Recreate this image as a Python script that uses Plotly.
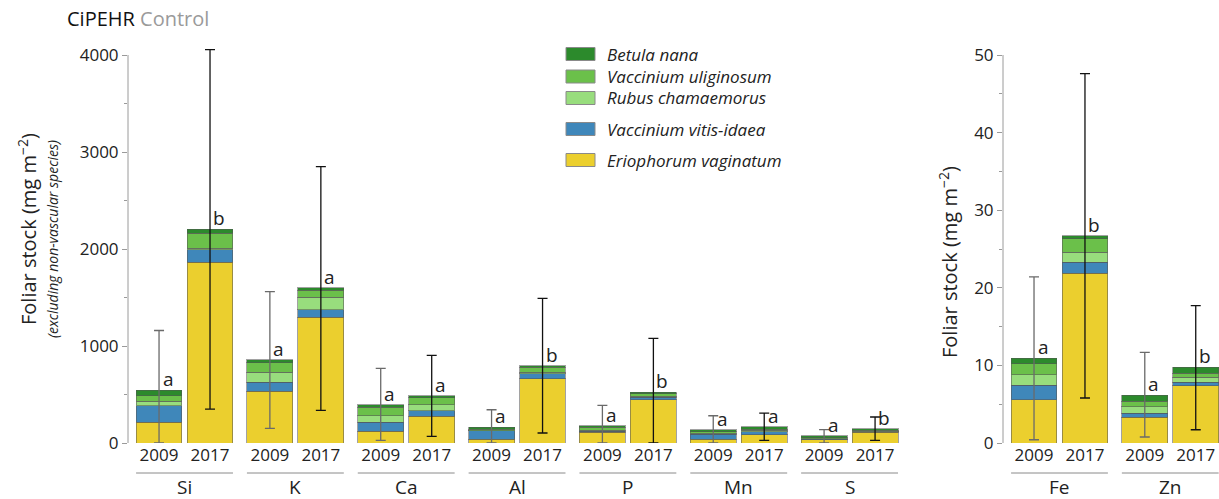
import plotly.graph_objects as go

# ---------------- data ----------------
elements = ["Si", "K", "Ca", "Al", "P", "Mn", "S", "Fe", "Zn"]
years = ["2009", "2017"]
species = ["Eriophorum vaginatum", "Vaccinium vitis-idaea", "Rubus chamaemorus",
           "Vaccinium uliginosum", "Betula nana"]
colors = ["#EBCF2E", "#3F87BA", "#98DD7D", "#6BC04A", "#2C8A2C"]

# order: Si09, Si17, K09, K17, Ca09, Ca17, Al09, Al17, P09, P17, Mn09, Mn17, S09, S17, Fe09, Fe17, Zn09, Zn17
eriophorum = [212, 1862, 532, 1299, 120, 274, 41, 660, 113, 446, 41, 86, 33, 113, 5.58, 21.9, 3.35, 7.38]
vitis_idaea = [172, 131, 93, 75, 92, 59, 83, 54, 8, 24, 48, 31, 5, 4, 1.84, 1.4, 0.51, 0.42]
rubus = [49, 17, 103, 127, 69, 62, 4, 14, 10, 11, 14, 13, 5, 4, 1.38, 1.3, 0.84, 0.65]
uliginosum = [55, 155, 97, 72, 86, 69, 13, 52, 30, 27, 14, 14, 9, 10, 1.4, 1.7, 0.66, 0.55]
betula = [54, 41, 34, 25, 28, 24, 20, 17, 17, 14, 20, 24, 22, 16, 0.75, 0.4, 0.82, 0.74]
err_low = [0, 350, 151, 336, 27, 68, 0, 103, 0, 0, 0, 27, 0, 27, 0.42, 5.8, 0.77, 1.71]
err_high = [1160, 4055, 1560, 2850, 769, 903, 343, 1491, 388, 1078, 281, 309, 137, 268, 21.4, 47.6, 11.67, 17.7]
letters = ["a", "b", "a", "a", "a", "a", "a", "b", "a", "b", "a", "a", "a", "b", "a", "b", "a", "b"]

left_ticks = [0, 1000, 2000, 3000, 4000]
right_ticks = [0, 10, 20, 30, 40, 50]

series = [eriophorum, vitis_idaea, rubus, uliginosum, betula]

# ---------------- layout helpers ----------------
W, H = 1219, 499
FONT = "Open Sans"
TXT = "#222222"
off = [-0.23, 0.23]
bw = 0.414
n_left = 7
panels = [("x", "y", list(range(0, 2 * n_left))), ("x2", "y2", list(range(2 * n_left, 2 * len(elements))))]


def xpos(idx):
    g, j = divmod(idx, 2)
    if g >= n_left:
        g -= n_left
    return g + off[j]


totals = [sum(s[i] for s in series) for i in range(len(eriophorum))]

fig = go.Figure()
for xa, ya, idxs in panels:
    xs = [xpos(i) for i in idxs]
    for s, name, col in zip(series, species, colors):
        fig.add_trace(go.Bar(
            x=xs, y=[s[i] for i in idxs], name=name, width=bw,
            marker=dict(color=col, line=dict(color="rgba(85,85,85,0.55)", width=1)),
            xaxis=xa, yaxis=ya, showlegend=False))
    for j, ecol in enumerate(["#6a6a6a", "#111111"]):
        sel = [i for i in idxs if i % 2 == j]
        fig.add_trace(go.Scatter(
            x=[xpos(i) for i in sel], y=[totals[i] for i in sel], mode="markers",
            marker=dict(size=1, opacity=0), xaxis=xa, yaxis=ya, showlegend=False,
            hoverinfo="skip",
            error_y=dict(type="data", symmetric=False,
                         array=[err_high[i] - totals[i] for i in sel],
                         arrayminus=[totals[i] - err_low[i] for i in sel],
                         color=ecol, thickness=1.3, width=5)))

annotations = []
shapes = []
# significance letters
for xa, ya, idxs in panels:
    for i in idxs:
        annotations.append(dict(x=xpos(i), y=totals[i], xref=xa, yref=ya, text=letters[i],
                                showarrow=False, xshift=9, yshift=-4, yanchor="bottom",
                                font=dict(family=FONT, size=19, color=TXT)))
# element names and underlines
for k, el in enumerate(elements):
    xa, ya = ("x", "y") if k < n_left else ("x2", "y2")
    g = k if k < n_left else k - n_left
    annotations.append(dict(x=g, y=0, xref=xa, yref=ya, text=el, showarrow=False,
                            yshift=-44, yanchor="middle", borderpad=0,
                            font=dict(family=FONT, size=19, color=TXT)))
    shapes.append(dict(type="line", xref=xa, yref="paper", x0=g - 0.23 - bw / 2, x1=g + 0.23 + bw / 2,
                       y0=(H - 473) / H, y1=(H - 473) / H, line=dict(color="#8a8a8a", width=1)))

# y axis lines
dl = [128 / W, 905 / W]
dr = [1003 / W, 1.0]
shapes.append(dict(type="line", xref="paper", yref="y", x0=dl[0], x1=dl[0], y0=0, y1=4000,
                   line=dict(color="#9a9a9a", width=1)))
shapes.append(dict(type="line", xref="paper", yref="y2", x0=dr[0], x1=dr[0], y0=0, y1=50,
                   line=dict(color="#9a9a9a", width=1)))

# legend (drawn manually to keep uneven spacing)
leg_rows = {"Betula nana": 54, "Vaccinium uliginosum": 76.5, "Rubus chamaemorus": 98,
            "Vaccinium vitis-idaea": 129, "Eriophorum vaginatum": 160}
for name, col in zip(species, colors):
    cy = leg_rows[name]
    shapes.append(dict(type="rect", xref="paper", yref="paper", x0=566 / W, x1=595 / W,
                       y0=(H - cy - 6.5) / H, y1=(H - cy + 6.5) / H,
                       fillcolor=col, line=dict(color="#8a8a8a", width=1)))
    annotations.append(dict(x=605 / W, y=(H - cy) / H, xref="paper", yref="paper",
                            text=f"<i>{name}</i>", showarrow=False, xanchor="left", yanchor="middle",
                            font=dict(family=FONT, size=17, color=TXT)))

# titles
annotations.append(dict(x=65 / W, y=(H - 18) / H, xref="paper", yref="paper",
                        text="CiPEHR <span style='color:#9a9a9a'>Control</span>", showarrow=False,
                        xanchor="left", yanchor="middle", font=dict(family=FONT, size=20, color="#111111")))
annotations.append(dict(x=27 / W, y=(H - 229) / H, xref="paper", yref="paper",
                        text="Foliar stock (mg m<sup>−2</sup>)", textangle=-90, showarrow=False,
                        xanchor="center", yanchor="middle", font=dict(family=FONT, size=20, color=TXT)))
annotations.append(dict(x=52 / W, y=(H - 239) / H, xref="paper", yref="paper",
                        text="<i>(excluding non-vascular species)</i>", textangle=-90, showarrow=False,
                        xanchor="center", yanchor="middle", font=dict(family=FONT, size=14, color=TXT)))
annotations.append(dict(x=948 / W, y=(H - 262) / H, xref="paper", yref="paper",
                        text="Foliar stock (mg m<sup>−2</sup>)", textangle=-90, showarrow=False,
                        xanchor="center", yanchor="middle", font=dict(family=FONT, size=20, color=TXT)))

ydom = [(H - 443) / H, (H - 45.3) / H]
tickfont = dict(family=FONT, size=17, color=TXT)
xcommon = dict(showline=False, showgrid=False, zeroline=False, ticks="", tickfont=tickfont,
               automargin=False, fixedrange=True)
ycommon = dict(showline=False, showgrid=False, zeroline=False, ticks="outside", ticklen=5,
               tickcolor="#9a9a9a", tickfont=tickfont, automargin=False, fixedrange=True)

left_x = [xpos(i) for i in panels[0][2]]
right_x = [xpos(i) for i in panels[1][2]]

fig.update_layout(
    width=W, height=H, autosize=False, margin=dict(l=0, r=0, t=0, b=0, pad=0),
    paper_bgcolor="white", plot_bgcolor="white", barmode="stack",
    xaxis=dict(domain=dl, range=[-0.51, 6.5], tickvals=left_x, ticktext=years * n_left, **xcommon),
    xaxis2=dict(domain=dr, range=[-0.51, 1.44], tickvals=right_x, ticktext=years * 2, **xcommon),
    yaxis=dict(domain=ydom, range=[0, 4100], tickvals=left_ticks, anchor="x",
               minor=dict(dtick=500, ticklen=3, tickcolor="#9a9a9a", ticks="outside"), **ycommon),
    yaxis2=dict(domain=ydom, range=[0, 51.25], tickvals=right_ticks, anchor="x2",
                minor=dict(dtick=5, ticklen=3, tickcolor="#9a9a9a", ticks="outside"), **ycommon),
    annotations=annotations, shapes=shapes, showlegend=False,
)

fig.write_html("out.html", config={"displayModeBar": False, "responsive": False},
               post_script="document.body.style.margin='0';")
